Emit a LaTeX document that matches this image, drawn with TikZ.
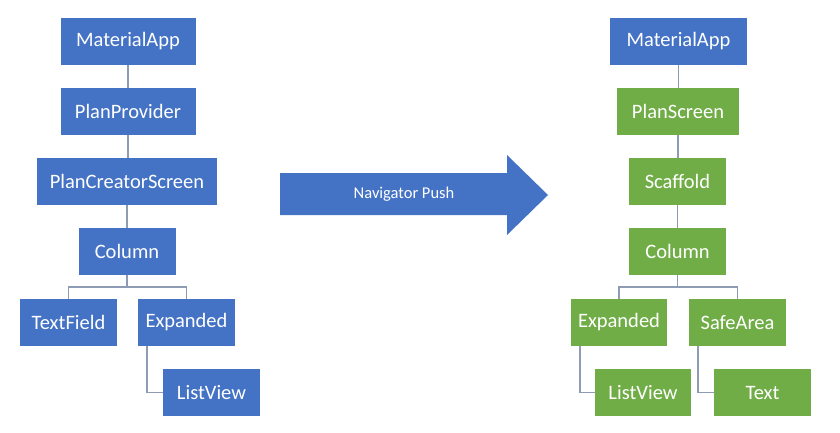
\documentclass[tikz,border=0pt]{standalone}
\usepackage{fontspec}
\setmainfont{Carlito}
\usetikzlibrary{positioning}

\definecolor{boxblue}{HTML}{4472C4}
\definecolor{boxgreen}{HTML}{70AD47}
\definecolor{linkgray}{HTML}{8D9BB5}

\begin{document}
\begin{tikzpicture}[x=1pt,y=-1pt,
    wbox/.style={rectangle,fill=boxblue,text=white,inner sep=0pt,
      minimum height=47pt,font=\fontsize{20.5}{24}\selectfont},
    gbox/.style={wbox,fill=boxgreen},
    link/.style={draw=linkgray,line width=1.8pt}]
  \useasboundingbox[fill=white] (0,0) rectangle (840,433);
  % tree before the push
  \node[wbox,minimum width=135pt] (matL) at (128,41.5) {MaterialApp};
  \node[wbox,minimum width=135pt] (provL) at (128,111.5) {PlanProvider};
  \node[wbox,minimum width=180pt] (creatL) at (127,181.5) {PlanCreatorScreen};
  \node[wbox,minimum width=97pt] (colL) at (127,251.5) {Column};
  \node[wbox,minimum width=97pt] (tfL) at (68.5,322.5) {TextField};
  \node[wbox,minimum width=97pt] (expL) at (186.5,322.5) {Expanded};
  \node[wbox,minimum width=97pt] (lvL) at (211.5,392.5) {ListView};
  % tree after the push
  \node[wbox,minimum width=137pt] (matR) at (678.5,41.5) {MaterialApp};
  \node[gbox,minimum width=122pt] (scrR) at (678,111.5) {PlanScreen};
  \node[gbox,minimum width=97pt] (scafR) at (677.5,181.5) {Scaffold};
  \node[gbox,minimum width=97pt] (colR) at (677.5,251.5) {Column};
  \node[gbox,minimum width=96pt] (expR) at (619,322.5) {Expanded};
  \node[gbox,minimum width=97pt] (safeR) at (737.5,322.5) {SafeArea};
  \node[gbox,minimum width=96pt] (lvR) at (643,392.5) {ListView};
  \node[gbox,minimum width=97pt] (txtR) at (762.5,392.5) {Text};
  % links
  \foreach \a/\b in {matL/provL,provL/creatL,creatL/colL,matR/scrR,scrR/scafR,scafR/colR}
    \draw[link] (\a.south) -- (\a.south |- \b.north);
  \foreach \p/\c in {colL/tfL,colL/expL,colR/expR,colR/safeR}
    \draw[link] (\p.south) -- ([yshift=-12pt]\p.south) -| (\c.north);
  \foreach \p/\c in {expL/lvL,expR/lvR,safeR/txtR}
    \draw[link] ([xshift=9pt]\p.south west) |- (\c.west);
  % navigator push arrow
  \fill[boxblue] (280,173) -- (507,173) -- (507,155) -- (548,195)
    -- (507,235) -- (507,215) -- (280,215) -- cycle;
  \node[text=white,font=\fontsize{16.5}{20}\selectfont] (push) at (404,194) {Navigator Push};
\end{tikzpicture}
\end{document}
